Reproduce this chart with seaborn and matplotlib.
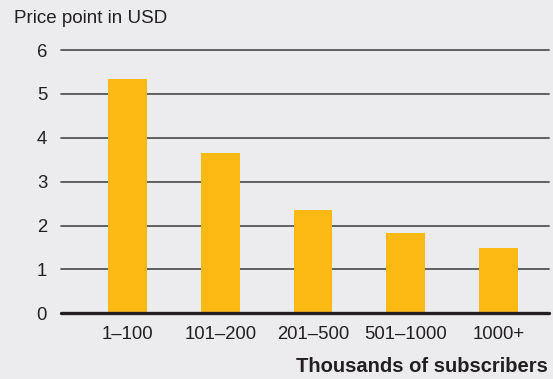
import pandas as pd
import matplotlib.pyplot as plt
import seaborn as sns

# Data
categories = ['1–100', '101–200', '201–500', '501–1000', '1000+']
prices = [5.34, 3.65, 2.35, 1.83, 1.49]
y_ticks = [0, 1, 2, 3, 4, 5, 6]

df = pd.DataFrame({'Subscribers': categories, 'Price': prices})

bg = '#ececee'
bar_color = '#fdb913'

sns.set_style('white')
plt.rcParams['font.family'] = ['Liberation Sans', 'DejaVu Sans']

fig = plt.figure(figsize=(5.53, 3.79), dpi=100, facecolor=bg)
ax = fig.add_axes([61 / 553, 1 - 313.3 / 379, 488 / 553, 263.3 / 379])
ax.set_facecolor(bg)

sns.barplot(data=df, x='Subscribers', y='Price', color=bar_color,
            saturation=1, width=0.42, linewidth=0, ax=ax, zorder=3)

ax.set_xlim(-0.717, 4.545)
ax.set_ylim(0, 6)
ax.set_yticks(y_ticks)

# Horizontal gridlines
for t in y_ticks[1:]:
    ax.axhline(t, color='#555555', lw=1.3, zorder=1, clip_on=False)
ax.axhline(0, color='#231f20', lw=2.4, zorder=4, clip_on=False)

for s in ax.spines.values():
    s.set_visible(False)

ax.tick_params(axis='both', length=0, labelsize=13.3, colors='#231f20')
ax.tick_params(axis='x', pad=9)
ax.tick_params(axis='y', pad=10)
ax.set_xlabel('')
ax.set_ylabel('')

fig.text(14 / 553, 1 - 23 / 379, 'Price point in USD', fontsize=13.5,
         color='#231f20', ha='left', va='baseline')
fig.text(548 / 553, 1 - 372 / 379, 'Thousands of subscribers', fontsize=14.5,
         fontweight='bold', color='#231f20', ha='right', va='baseline')

plt.savefig('out.png', dpi=100, facecolor=bg)
